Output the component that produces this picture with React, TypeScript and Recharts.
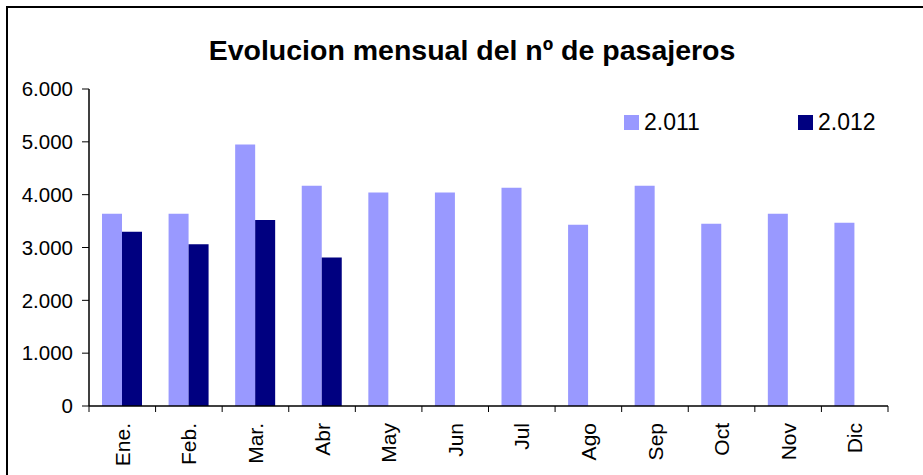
import React from 'react';
import { BarChart, Bar, XAxis, YAxis } from 'recharts';

const months = ['Ene.', 'Feb.', 'Mar.', 'Abr', 'May', 'Jun', 'Jul', 'Ago', 'Sep', 'Oct', 'Nov', 'Dic'];
const values2011 = [3640, 3640, 4950, 4170, 4040, 4040, 4130, 3430, 4170, 3450, 3640, 3470];
const values2012: (number | null)[] = [3300, 3060, 3520, 2810, null, null, null, null, null, null, null, null];
const yTicks = [0, 1000, 2000, 3000, 4000, 5000, 6000];
const seriesNames = ['2.011', '2.012'];
const seriesColors = ['#9999FF', '#000080'];

const data = months.map((m, i) => ({ month: m, y2011: values2011[i], y2012: values2012[i] }));

const W = 923;
const H = 475;
const MARGIN = { top: 89, right: 35, bottom: 0, left: 0 };
const YAXIS_W = 89;
const XAXIS_H = 69;
const FONT = 'Arial, "Liberation Sans", sans-serif';
const BAND = (W - MARGIN.left - MARGIN.right - YAXIS_W) / months.length;

const fmt = (v: number) => v.toLocaleString('de-DE');

const XTick = (props: any) => {
  const { x, y, payload, index } = props;
  const left = x - BAND / 2;
  const right = x + BAND / 2;
  return (
    <g>
      <line x1={left} y1={y} x2={left} y2={y + 6} stroke="#000" strokeWidth={1} />
      {index === months.length - 1 && (
        <line x1={right} y1={y} x2={right} y2={y + 6} stroke="#000" strokeWidth={1} />
      )}
      <text
        x={x}
        y={y + 17}
        transform={`rotate(-90, ${x}, ${y + 17})`}
        textAnchor="end"
        dy="0.36em"
        fontFamily={FONT}
        fontSize={21}
        fill="#000"
      >
        {payload.value}
      </text>
    </g>
  );
};

const LegendBox = () => (
  <div style={{ position: 'absolute', left: 624, top: 107, width: 300, height: 30, fontFamily: FONT }}>
    {seriesNames.map((n, i) => (
      <div
        key={n}
        style={{ position: 'absolute', left: i * 174, top: 0, display: 'flex', alignItems: 'center' }}
      >
        <div style={{ width: 15, height: 15, background: seriesColors[i], marginRight: 5 }} />
        <span style={{ fontSize: 23, color: '#000', lineHeight: '30px' }}>{n}</span>
      </div>
    ))}
  </div>
);

export default function App() {
  return (
    <div style={{ position: 'absolute', left: 0, top: 0, width: W, height: H, overflow: 'hidden', background: '#fff' }}>
      <div
        style={{
          position: 'absolute',
          left: 6,
          top: 6,
          width: W + 20,
          height: H + 20,
          borderLeft: '2px solid #000',
          borderTop: '2px solid #000',
        }}
      />
      <div
        style={{
          position: 'absolute',
          left: 0,
          top: 33,
          width: 944,
          textAlign: 'center',
          fontFamily: FONT,
          fontWeight: 'bold',
          fontSize: 28.5,
          color: '#000',
          lineHeight: '34px',
        }}
      >
        Evolucion mensual del nº de pasajeros
      </div>
      <div style={{ position: 'absolute', left: 0, top: 0 }}>
        <BarChart width={W} height={H} data={data} margin={MARGIN} barGap={0} barSize={20}>
          <XAxis
            dataKey="month"
            height={XAXIS_H}
            axisLine={{ stroke: '#000', strokeWidth: 1.5 }}
            tickLine={false}
            tickSize={0}
            tickMargin={0}
            interval={0}
            tick={<XTick />}
          />
          <YAxis
            width={YAXIS_W}
            domain={[0, 6000]}
            ticks={yTicks}
            interval={0}
            tickFormatter={fmt}
            axisLine={{ stroke: '#000', strokeWidth: 1.5 }}
            tickLine={{ stroke: '#000' }}
            tickSize={7}
            tickMargin={9}
            tick={{ fontFamily: FONT, fontSize: 20.5, fill: '#000' }}
          />
          <Bar dataKey="y2011" name={seriesNames[0]} fill={seriesColors[0]} isAnimationActive={false} />
          <Bar dataKey="y2012" name={seriesNames[1]} fill={seriesColors[1]} isAnimationActive={false} />
        </BarChart>
      </div>
      <LegendBox />
    </div>
  );
}
